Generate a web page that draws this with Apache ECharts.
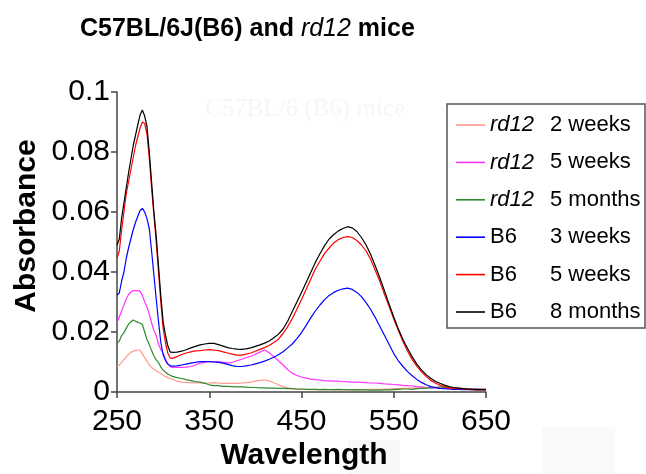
<!DOCTYPE html>
<html>
<head>
<meta charset="utf-8">
<script src="https://cdn.jsdelivr.net/npm/echarts@6/dist/echarts.min.js"></script>
<style>html,body{margin:0;padding:0;background:#fff}#c{width:646px;height:474px}</style>
</head>
<body>
<div id="c"></div>
<script>
const wavelength = [250,252.5,255,257.5,260,262.5,265,267.5,270,272.5,275,277.5,280,282.5,285,287.5,290,292.5,295,297.5,300,302.5,305,307.5,310,
315,320,325,330,335,340,345,350,355,360,
365,370,375,380,385,390,395,400,405,410,
415,420,425,430,435,440,445,450,455,460,
465,470,475,480,485,490,495,500,505,510,
515,520,525,530,535,540,545,550,555,560,
565,570,575,580,585,590,595,600,605,610,
615,620,625,630,635,640,645,650];

const seriesNames = ['rd12 2 weeks','rd12 5 weeks','rd12 5 months','B6 3 weeks','B6 5 weeks','B6 8 months'];
const seriesColors = ['#ff9a90','#ff33ff','#2e8b2e','#0000ff','#ff0000','#000000'];

const rd12_2w = [0.0084,0.009,0.0099,0.0108,0.0117,0.0126,0.0132,0.0136,0.0138,0.014,0.014,0.0127,0.0115,0.0103,0.009,0.0082,0.0076,0.0071,0.0066,0.0062,0.0057,0.0052,0.0048,0.0045,0.0043,
.0036,.0033,.0032,.0031,.0031,.003,.003,.003,.0031,.003,
.0029,.0029,.0029,.0029,.003,.0031,.0033,.0036,.0039,.004,
.0037,.0031,.0024,.0018,.0014,.0011,.0009,.0009,.0009,.0008,
.0009,.0008,.0008,.0008,.0007,.0007,.0007,.0007,.0007,.0008,
.0008,.0008,.0009,.0009,.0009,.001,.001,.0011,.0011,.0012,
.0012,.0013,.0014,.0014,.0015,.0015,.0016,.0016,.0016,.0015,
.0014,.0013,.0012,.0011,.001,.001,.0009,.0009];

const rd12_5w = [0.023,0.025,0.027,0.029,0.031,0.0325,0.0333,0.0338,0.0338,0.0338,0.0336,0.0322,0.030,0.0283,0.026,0.023,0.0205,0.0188,0.016,0.0142,0.0129,0.011,0.0095,0.0085,0.0082,
.0082,.0082,.0083,.0085,.009,.0096,.0099,.0101,.0101,.0101,
.0099,.0097,.0099,.0104,.0109,.0114,.0119,.0126,.0133,.014,
.0131,.0118,.0104,.009,.0075,.0063,.0055,.005,.0046,.0043,
.0041,.004,.0038,.0037,.0036,.0036,.0035,.0034,.0033,.0033,
.0032,.0031,.003,.003,.0029,.0027,.0026,.0025,.0024,.0022,
.0021,.002,.0018,.0017,.0015,.0014,.0013,.0012,.0012,.0011,
.0011,.001,.001,.001,.0009,.0009,.001,.0009];

const rd12_5m = [0.0163,0.017,0.0188,0.0198,0.0212,0.0226,0.0234,0.024,0.0236,0.0232,0.023,0.0225,0.020,0.0175,0.0158,0.0138,0.012,0.0107,0.0098,0.0083,0.0073,0.0066,0.006,0.0056,0.0052,
.0048,.0045,.0041,.0038,.0035,.0033,.0029,.0024,.0021,.0021,
.0019,.0019,.0018,.0017,.0017,.0016,.0015,.0015,.0014,.0014,
.0013,.0013,.0012,.0012,.0011,.0011,.001,.001,.0009,.0009,
.0009,.0008,.0009,.0008,.0008,.0009,.0008,.0008,.0007,.0008,
.0007,.0007,.0006,.0006,.0006,.0007,.0007,.0008,.0009,.001,
.001,.0009,.0011,.0012,.0013,.0014,.0015,.0016,.0016,.0015,
.0014,.0012,.0011,.001,.001,.0009,.0009,.0009];

const b6_3w = [0.0323,0.033,0.037,0.040,0.0445,0.048,0.051,0.054,0.0565,0.0585,0.0605,0.0612,0.060,0.0578,0.0545,0.047,0.039,0.031,0.0235,0.0165,0.0125,0.0105,0.0093,0.0088,0.0086,
.0087,.009,.0093,.0096,.0099,.0101,.0101,.0101,.01,.0099,
.0096,.0092,.0088,.0085,.0085,.0087,.009,.0094,.0098,.0103,
.0109,.0116,.0124,.0134,.0147,.016,.0178,.0198,.0222,.0247,
.027,.029,.0308,.0322,.0332,.0339,.0344,.0346,.0342,.0332,
.0318,.0298,.0275,.0248,.0218,.0188,.0158,.0128,.0104,.0085,
.0068,.0054,.0042,.0032,.0024,.0018,.0015,.0012,.0011,.001,
.0009,.0009,.0008,.0008,.0008,.0009,.0008,.0008];

const b6_5w = [0.0446,0.047,0.054,0.060,0.066,0.070,0.074,0.078,0.082,0.085,0.088,0.090,0.0895,0.086,0.078,0.068,0.059,0.050,0.040,0.030,0.0213,0.0165,0.013,0.0114,0.0112,
.0118,.0125,.013,.0134,.0137,.0138,.014,.0141,.014,.0138,
.0134,.013,.0126,.0123,.0123,.0126,.013,.0136,.0142,.0148,
.0155,.0165,.0176,.0195,.0218,.0245,.0276,.0308,.0342,.0376,
.041,.0436,.0462,.048,.0497,.0508,.0515,.0518,.0515,.0505,
.049,.047,.0442,.0405,.0368,.0325,.0285,.0243,.0205,.0168,
.0136,.0108,.0086,.0067,.0052,.0039,.003,.0023,.0018,.0014,
.0012,.0011,.001,.0009,.0008,.0007,.0007,.0007];

const b6_8m = [0.049,0.051,0.058,0.063,0.068,0.073,0.0775,0.082,0.0855,0.089,0.0923,0.094,0.092,0.0885,0.080,0.070,0.060,0.052,0.042,0.032,0.0234,0.019,0.0155,0.0134,0.0132,
.0133,.0136,.0141,.0147,.0152,.0157,.016,.0162,.0162,.0158,
.0153,.0148,.0145,.0143,.0142,.0144,.0147,.0152,.0157,.0163,
.017,.0181,.0193,.021,.0236,.0268,.03,.0332,.0365,.0398,
.0432,.0461,.0488,.051,.0525,.0537,.0545,.0551,.0547,.0535,
.0515,.049,.0458,.042,.038,.0337,.0293,.025,.021,.0175,
.0145,.0117,.0093,.0074,.0058,.0046,.0036,.0029,.0023,.0018,
.0015,.0013,.0011,.001,.0009,.0008,.0008,.0008];

const xTicks = [250, 350, 450, 550, 650];
const yTicks = [0, 0.02, 0.04, 0.06, 0.08, 0.1];

const allValues = [rd12_2w, rd12_5w, rd12_5m, b6_3w, b6_5w, b6_8m];
const FF = '"Liberation Sans", Arial, Helvetica, sans-serif';

const chart = echarts.init(document.getElementById('c'), null, {renderer: 'canvas'});
const series = allValues.map((vals, k) => ({
  name: seriesNames[k],
  type: 'line',
  data: wavelength.map((w, i) => [w, vals[i]]),
  showSymbol: false,
  symbol: 'none',
  lineStyle: {color: seriesColors[k], width: 1.2},
  itemStyle: {color: seriesColors[k]},
  z: 2 + k
}));

chart.setOption({
  animation: false,
  backgroundColor: '#ffffff',
  grid: {left: 117, right: 160, top: 92, bottom: 82, containLabel: false},
  xAxis: {
    type: 'value',
    min: xTicks[0], max: xTicks[xTicks.length - 1], interval: 100,
    axisLine: {show: true, lineStyle: {color: '#444', width: 1.5}},
    axisTick: {show: true, length: 6, lineStyle: {color: '#444', width: 1.5}},
    axisLabel: {fontFamily: FF, fontSize: 30, color: '#000', margin: 15},
    splitLine: {show: false}
  },
  yAxis: {
    type: 'value',
    min: yTicks[0], max: yTicks[yTicks.length - 1], interval: 0.02,
    axisLine: {show: true, lineStyle: {color: '#444', width: 1.5}},
    axisTick: {show: true, length: 6, lineStyle: {color: '#444', width: 1.5}},
    axisLabel: {fontFamily: FF, fontSize: 30, color: '#000', margin: 7,
      formatter: v => String(parseFloat(v.toFixed(2)))},
    splitLine: {show: false}
  },
  legend: {
    orient: 'vertical',
    left: 456, top: 114,
    padding: 0,
    itemGap: 15.4,
    itemWidth: 29, itemHeight: 1.6,
    icon: 'rect',
    data: seriesNames,
    formatter: name => {
      const parts = name.split(' ');
      const first = parts.shift();
      return (first === 'rd12' ? '{i|rd12}' : '{n|' + first + '}') + '{t|' + parts.join(' ') + '}';
    },
    textStyle: {
      fontFamily: FF, fontSize: 22, color: '#000',
      rich: {
        i: {fontFamily: FF, fontSize: 22, fontStyle: 'italic', width: 60, color: '#000'},
        n: {fontFamily: FF, fontSize: 22, width: 60, color: '#000'},
        t: {fontFamily: FF, fontSize: 22, color: '#000'}
      }
    }
  },
  graphic: [
    {type: 'rect', z: 0, silent: true, shape: {x: 348, y: 440, width: 52, height: 34}, style: {fill: '#f8f8f8'}},
    {type: 'rect', z: 0, silent: true, shape: {x: 542, y: 427, width: 73, height: 47}, style: {fill: '#f9f9f9'}},
    {type: 'text', z: 0, silent: true, x: 205, y: 109,
      style: {text: 'C57BL/6 (B6) mice', fontFamily: '"Liberation Serif", serif', fontSize: 25, fill: '#f6f6f6', verticalAlign: 'middle'}},
    {type: 'rect', z: 1, silent: true, shape: {x: 447, y: 104, width: 198, height: 224},
      style: {fill: '#ffffff', stroke: '#555', lineWidth: 1.5}},
    {type: 'text', z: 5, x: 80, y: 29,
      style: {
        text: '{b|C57BL/6J(B6) and }{i|rd12}{b| mice}',
        verticalAlign: 'middle',
        rich: {
          b: {fontFamily: FF, fontSize: 25, fontWeight: 'bold', fill: '#000'},
          i: {fontFamily: FF, fontSize: 25, fontStyle: 'italic', fill: '#000'}
        }
      }},
    {type: 'text', z: 5, x: 304, y: 456,
      style: {text: 'Wavelength', fontFamily: FF, fontSize: 30, fontWeight: 'bold', fill: '#000',
        align: 'center', verticalAlign: 'middle'}},
    {type: 'text', z: 5, x: 27, y: 226, rotation: Math.PI / 2,
      style: {text: 'Absorbance', fontFamily: FF, fontSize: 30, fontWeight: 'bold', fill: '#000',
        align: 'center', verticalAlign: 'middle'}}
  ],
  series: series
});
</script>
</body>
</html>
